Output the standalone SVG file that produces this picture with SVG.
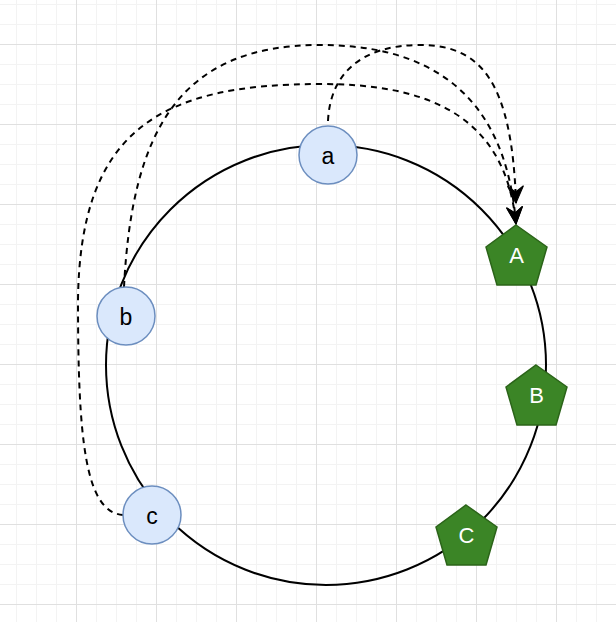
<svg xmlns="http://www.w3.org/2000/svg" width="616" height="622" viewBox="0 0 616 622">
<style>
.node{fill:#dae8fc;stroke:#6c8ebf;stroke-width:1.5}
.pent{fill:#3b8526;stroke:#2b6419;stroke-width:1.5}
.lbl{font-family:"Liberation Sans",Arial,sans-serif;font-size:23px;text-anchor:middle;fill:#000}
.plbl{font-family:"Liberation Sans",Arial,sans-serif;font-size:22px;text-anchor:middle;fill:#fff}
.edge{fill:none;stroke:#000;stroke-width:2;stroke-dasharray:6 5}
</style>
<defs>
<pattern id="minor" patternUnits="userSpaceOnUse" x="16" y="4" width="20" height="20">
<path d="M0.5,0 V20 M0,0.5 H20" stroke="#f3f3f3" stroke-width="1" fill="none"/>
</pattern>
<pattern id="major" patternUnits="userSpaceOnUse" x="76" y="44" width="80" height="80">
<path d="M0.5,0 V80 M0,0.5 H80" stroke="#e0e0e0" stroke-width="1" fill="none"/>
</pattern>
<marker id="arrow" markerUnits="userSpaceOnUse" markerWidth="20" markerHeight="20" viewBox="-18 -10 20 20" refX="0" refY="0" orient="auto">
<path d="M0,0 L-17,-8 L-11,0 L-17,8 Z" fill="#000" stroke="#000" stroke-width="1"/>
</marker>
</defs>
<rect width="616" height="622" fill="#ffffff"/>
<rect width="616" height="622" fill="url(#minor)"/>
<rect width="616" height="622" fill="url(#major)"/>
<g id="ring">
<circle cx="326" cy="365" r="220" fill="none" stroke="#000" stroke-width="2"/>
</g>
<g id="connectors">
<path class="edge" d="M328,121 C330,75 360,45 420,45 C480,45 512,80 516,203" marker-end="url(#arrow)"/>
<path class="edge" d="M124,287 C132,130 180,45 320,45 C420,45 505,85 516,224" marker-end="url(#arrow)"/>
<path class="edge" d="M123,515 C85,512 78,440 78,300 C80,130 160,84 320,84 C420,84 505,110 516,224" marker-end="url(#arrow)"/>
</g>
<g id="node-a">
<circle class="node" cx="328" cy="155" r="29"/>
<text class="lbl" x="328" y="163.5">a</text>
</g>
<g id="node-b">
<circle class="node" cx="126" cy="316" r="29"/>
<text class="lbl" x="126" y="324.5">b</text>
</g>
<g id="node-c">
<circle class="node" cx="152" cy="515" r="29"/>
<text class="lbl" x="152" y="523.5">c</text>
</g>
<g id="node-A">
<polygon class="pent" points="516,225 547,247 536,285 497,285 486,247"/>
<text class="plbl" x="516.5" y="263">A</text>
</g>
<g id="node-B">
<polygon class="pent" points="536,365 567,387 556,425 517,425 506,387"/>
<text class="plbl" x="536.5" y="403">B</text>
</g>
<g id="node-C">
<polygon class="pent" points="466,505 497,527 486,565 447,565 436,527"/>
<text class="plbl" x="466.5" y="543">C</text>
</g>
</svg>
